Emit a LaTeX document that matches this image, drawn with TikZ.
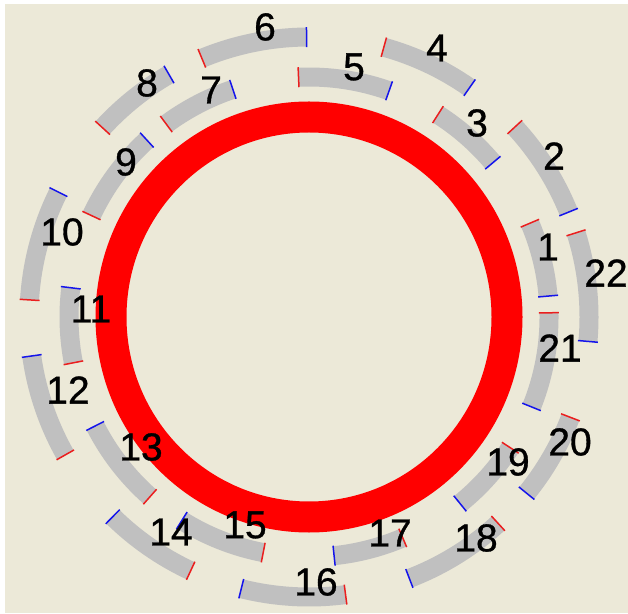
\documentclass[tikz,border=0pt]{standalone}
\usepackage{fontspec}
\setmainfont{Liberation Sans}
\newfontfamily\lblfont[FakeBold=0.8]{Liberation Sans}
\definecolor{bgbeige}{RGB}{236,233,216}
\definecolor{bandgray}{RGB}{192,192,192}
\definecolor{ringred}{RGB}{255,0,0}
\definecolor{tickred}{RGB}{235,30,30}
\definecolor{tickblue}{RGB}{20,20,235}
\newcommand\plasseg[5]{% radius, inner r, outer r, start angle, end angle
  \draw[band] (#4:#1) arc[start angle=#4, end angle=#5, radius=#1pt];
  \draw[redtick] (#4:#2) -- (#4:#3);
  \draw[bluetick] (#5:#2) -- (#5:#3);
}
\newcommand\innerseg[2]{\plasseg{240}{230}{250}{#1}{#2}}
\newcommand\outerseg[2]{\plasseg{280}{270}{290}{#1}{#2}}
\begin{document}
\begin{tikzpicture}[x=1pt,y=1pt,
  band/.style={draw=bandgray, line width=19pt, line cap=butt},
  redtick/.style={draw=tickred, line width=1.5pt},
  bluetick/.style={draw=tickblue, line width=1.5pt},
  ring/.style={draw=ringred, line width=31pt},
  lbl/.style={inner sep=0pt, font=\lblfont\fontsize{39}{42}\selectfont, text=black}]
\useasboundingbox (0,0) rectangle (628,613);
\fill[white] (0,0) rectangle (628,613);
\fill[bgbeige] (5,0) rectangle (628,609);
\coordinate (C) at (309,296);
% red ring
\draw[ring] (C) ellipse[x radius=198pt, y radius=200pt];
\begin{scope}[shift={(C)}]
% inner ring segments
\innerseg{23}{5}        % 1
\innerseg{57.5}{40}     % 3
\innerseg{92.5}{70.5}   % 5
\innerseg{126.5}{108.5} % 7
\innerseg{155}{132.5}   % 9
\innerseg{191}{173}     % 11
\innerseg{-131.5}{-153} % 13
\innerseg{-101}{-122}   % 15
\innerseg{-67}{-84}     % 17
\innerseg{-33}{-51}     % 19
\innerseg{1}{-22}       % 21
% outer ring segments
\outerseg{42.7}{22}     % 2
\outerseg{74.5}{55}     % 4
\outerseg{112.5}{90.5}  % 6
\outerseg{137.5}{120}   % 8
\outerseg{176.5}{153.5} % 10
\outerseg{-150.5}{-172} % 12
\outerseg{-115}{-134.5} % 14
\outerseg{-82.5}{-104}  % 16
\outerseg{-47.5}{-69}   % 18
\outerseg{-21}{-39}     % 20
\outerseg{17.5}{-5}     % 22
\end{scope}
% labels
\node[lbl] (l1) at (548,366) {1};
\node[lbl] (l2) at (554,457) {2};
\node[lbl] (l3) at (477,490) {3};
\node[lbl] (l4) at (437,565) {4};
\node[lbl] (l5) at (354,546) {5};
\node[lbl] (l6) at (265,586) {6};
\node[lbl] (l7) at (211,523) {7};
\node[lbl] (l8) at (147,530) {8};
\node[lbl] (l9) at (126,451) {9};
\node[lbl] (l10) at (62,381) {10};
\node[lbl] (l11) at (91,304) {11};
\node[lbl] (l12) at (68,223) {12};
\node[lbl] (l13) at (141,166) {13};
\node[lbl] (l14) at (171,81) {14};
\node[lbl] (l15) at (245,88) {15};
\node[lbl] (l16) at (316,31) {16};
\node[lbl] (l17) at (390,80) {17};
\node[lbl] (l18) at (476,75) {18};
\node[lbl] (l19) at (508,151) {19};
\node[lbl] (l20) at (570,171) {20};
\node[lbl] (l21) at (560,265) {21};
\node[lbl] (l22) at (606,340) {22};
\end{tikzpicture}
\end{document}
